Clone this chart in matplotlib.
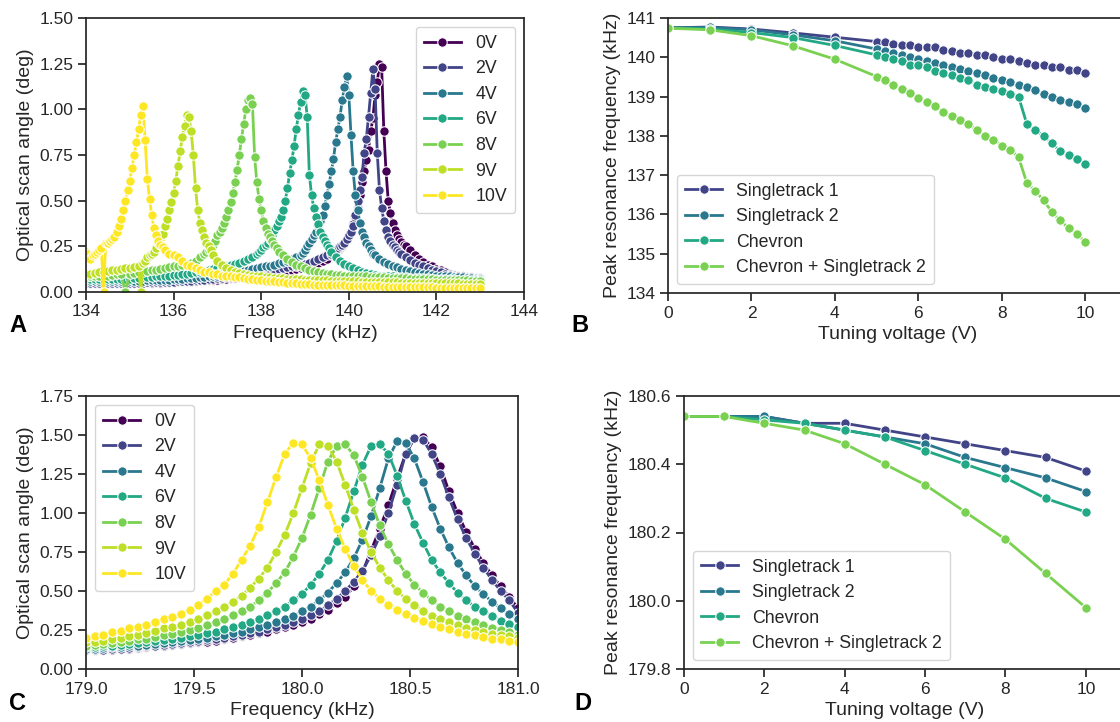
import matplotlib
matplotlib.use("Agg")
import matplotlib.pyplot as plt
from matplotlib import cm
from matplotlib.colors import Normalize
import matplotlib.ticker as mticker

plt.rcParams['font.family'] = ['Liberation Sans', 'DejaVu Sans']
TXT = '#262626'
plt.rcParams.update({
    'text.color': TXT, 'axes.labelcolor': TXT, 'xtick.color': TXT, 'ytick.color': TXT,
    'axes.edgecolor': TXT, 'axes.linewidth': 1.25,
    'xtick.major.width': 1.25, 'ytick.major.width': 1.25,
    'xtick.major.size': 5.5, 'ytick.major.size': 5.5,
    'xtick.labelsize': 12.5, 'ytick.labelsize': 12.5, 'axes.labelsize': 14,
})

# ---------------- data ----------------
VOLTS = [0, 2, 4, 6, 8, 9, 10]
VOLT_LABELS = ['0V', '2V', '4V', '6V', '8V', '9V', '10V']

# Panel A: (frequency kHz, optical scan angle deg)
A_0V = [(134.0,.05),(134.1,.05),(134.2,.055),(134.3,.05),(134.4,.05),(134.5,.055),(134.6,.05),(134.7,.05),
        (134.8,.055),(134.9,.05),(135.0,.05),(135.1,.055),(135.2,.05),(135.3,.05),(135.4,.055),(135.5,.05),
        (135.6,.055),(135.7,.05),(135.8,.055),(135.9,.055),(136.0,.055),(136.1,.06),(136.2,.06),(136.3,.06),
        (136.4,.06),(136.5,.06),(136.6,.065),(136.7,.065),(136.8,.065),(136.9,.065),(137.0,.065),(137.1,.07),
        (137.2,.07),(137.3,.075),(137.4,.075),(137.5,.08),(137.6,.08),(137.7,.085),(137.8,.085),(137.9,.09),
        (138.0,.09),(138.1,.095),(138.2,.10),(138.3,.10),(138.4,.105),(138.5,.11),(138.6,.115),(138.7,.12),
        (138.8,.125),(138.9,.13),(139.0,.14),(139.1,.145),(139.2,.15),(139.3,.16),(139.4,.17),(139.5,.18),
        (139.6,.20),(139.7,.22),(139.75,.23),(139.8,.24),(139.85,.25),(139.9,.27),(139.95,.29),(140.0,.31),
        (140.05,.33),(140.1,.37),(140.15,.41),(140.2,.46),(140.25,.53),(140.3,.60),(140.35,.66),(140.4,.72),
        (140.45,.78),(140.5,.88),(140.55,.95),(140.6,1.08),(140.65,1.15),(140.7,1.25),(140.75,1.23),(140.8,.88),
        (140.85,.66),(140.9,.50),(140.95,.43),(141.0,.38),(141.05,.34),(141.1,.31),(141.15,.29),(141.2,.275),
        (141.25,.26),(141.3,.25),(141.4,.23),(141.5,.20),(141.6,.18),(141.7,.165),(141.8,.15),(141.9,.14),
        (142.0,.125),(142.1,.12),(142.2,.11),(142.3,.10),(142.4,.095),(142.5,.09),(142.6,.085),(142.7,.08),
        (142.8,.075),(142.9,.07),(143.0,.065)]
A_2V = [(134.0,.05),(134.1,.048),(134.2,.05),(134.3,.05),(134.4,.048),(134.5,.05),(134.6,.05),(134.7,.052),
        (134.8,.05),(134.9,.05),(135.0,.052),(135.1,.05),(135.2,.052),(135.3,.052),(135.4,.053),(135.5,.053),
        (135.6,.054),(135.7,.055),(135.8,.055),(135.9,.056),(136.0,.057),(136.1,.058),(136.2,.06),(136.3,.06),
        (136.4,.062),(136.5,.064),(136.6,.066),(136.7,.068),(136.8,.07),(136.9,.072),(137.0,.075),(137.1,.078),
        (137.2,.08),(137.3,.083),(137.4,.086),(137.5,.09),(137.6,.093),(137.7,.096),(137.8,.10),(137.9,.104),
        (138.0,.108),(138.1,.112),(138.2,.116),(138.3,.12),(138.4,.125),(138.5,.13),(138.6,.135),(138.7,.14),
        (138.8,.145),(138.9,.15),(139.0,.155),(139.1,.16),(139.2,.17),(139.3,.18),(139.4,.19),(139.5,.20),
        (139.6,.21),(139.65,.22),(139.7,.23),(139.75,.24),(139.8,.25),(139.85,.26),(139.9,.27),(139.95,.29),
        (140.0,.31),(140.05,.33),(140.1,.36),(140.15,.42),(140.2,.50),(140.25,.56),(140.3,.63),(140.35,.76),
        (140.4,.84),(140.45,.96),(140.5,1.09),(140.55,1.22),(140.6,1.11),(140.65,.76),(140.7,.56),(140.75,.46),
        (140.8,.39),(140.85,.34),(140.9,.30),(140.95,.28),(141.0,.26),(141.05,.245),(141.1,.23),(141.15,.22),
        (141.2,.21),(141.3,.19),(141.4,.175),(141.5,.16),(141.6,.15),(141.7,.14),(141.8,.13),(141.9,.12),
        (142.0,.115),(142.1,.11),(142.2,.10),(142.3,.095),(142.4,.09),(142.5,.088),(142.6,.085),(142.7,.082),
        (142.8,.08),(142.9,.078),(143.0,.075)]
A_4V = [(134.0,.06),(134.1,.058),(134.2,.06),(134.3,.058),(134.4,.06),(134.5,.06),(134.6,.058),(134.7,.06),
        (134.8,.06),(134.9,.06),(135.0,.062),(135.1,.06),(135.2,.062),(135.3,.062),(135.4,.064),(135.5,.064),
        (135.6,.065),(135.7,.066),(135.8,.067),(135.9,.068),(136.0,.07),(136.1,.07),(136.2,.072),(136.3,.074),
        (136.4,.076),(136.5,.078),(136.6,.08),(136.7,.082),(136.8,.085),(136.9,.088),(137.0,.09),(137.1,.094),
        (137.2,.098),(137.3,.10),(137.4,.105),(137.5,.11),(137.6,.115),(137.7,.12),(137.8,.125),(137.9,.13),
        (138.0,.135),(138.1,.14),(138.2,.145),(138.3,.15),(138.4,.16),(138.5,.165),(138.6,.17),(138.7,.18),
        (138.8,.19),(138.9,.205),(138.95,.215),(139.0,.23),(139.05,.25),(139.1,.27),(139.15,.29),(139.2,.31),
        (139.25,.33),(139.3,.36),(139.35,.39),(139.4,.42),(139.45,.47),(139.5,.53),(139.55,.59),(139.6,.66),
        (139.65,.73),(139.7,.82),(139.75,.89),(139.8,.96),(139.85,1.05),(139.9,1.12),(139.95,1.18),(140.0,1.08),
        (140.05,.86),(140.1,.66),(140.15,.53),(140.2,.45),(140.25,.38),(140.3,.33),(140.35,.30),(140.4,.27),
        (140.45,.25),(140.5,.23),(140.55,.21),(140.6,.20),(140.7,.18),(140.8,.165),(140.9,.155),(141.0,.145),
        (141.1,.135),(141.2,.125),(141.3,.12),(141.4,.115),(141.5,.11),(141.6,.105),(141.7,.10),(141.8,.10),
        (141.9,.095),(142.0,.09),(142.1,.09),(142.2,.085),(142.3,.085),(142.4,.08),(142.5,.08),(142.6,.08),
        (142.7,.075),(142.8,.075),(142.9,.07),(143.0,.07)]
A_6V = [(134.0,.07),(134.1,.07),(134.2,.07),(134.3,.072),(134.4,.07),(134.5,.072),(134.6,.07),(134.7,.072),
        (134.8,.07),(134.9,.072),(135.0,.072),(135.1,.075),(135.2,.075),(135.3,.08),(135.4,.08),(135.5,.08),
        (135.6,.085),(135.7,.085),(135.8,.09),(135.9,.09),(136.0,.095),(136.1,.095),(136.2,.10),(136.3,.10),
        (136.4,.105),(136.5,.11),(136.6,.11),(136.7,.115),(136.8,.12),(136.9,.125),(137.0,.13),(137.1,.135),
        (137.2,.14),(137.3,.15),(137.4,.155),(137.5,.16),(137.6,.17),(137.7,.18),(137.8,.19),(137.9,.21),
        (137.95,.22),(138.0,.23),(138.05,.245),(138.1,.26),(138.15,.27),(138.2,.29),(138.25,.31),(138.3,.34),
        (138.35,.36),(138.4,.39),(138.45,.41),(138.5,.45),(138.55,.50),(138.6,.57),(138.65,.65),(138.7,.72),
        (138.75,.80),(138.8,.89),(138.85,.97),(138.9,1.04),(138.95,1.10),(139.0,1.08),(139.05,.96),(139.1,.64),
        (139.15,.53),(139.2,.46),(139.25,.41),(139.3,.37),(139.35,.33),(139.4,.30),(139.45,.28),(139.5,.26),
        (139.55,.24),(139.6,.22),(139.7,.19),(139.8,.17),(139.9,.155),(140.0,.145),(140.1,.13),(140.2,.12),
        (140.3,.11),(140.4,.105),(140.5,.10),(140.6,.095),(140.7,.09),(140.8,.09),(140.9,.085),(141.0,.085),
        (141.1,.08),(141.2,.08),(141.3,.08),(141.4,.078),(141.5,.077),(141.6,.076),(141.7,.075),(141.8,.074),
        (141.9,.073),(142.0,.072),(142.1,.071),(142.2,.07),(142.3,.07),(142.4,.069),(142.5,.068),(142.6,.068),
        (142.7,.067),(142.8,.066),(142.9,.066),(143.0,.065)]
A_8V = [(134.0,.08),(134.1,.085),(134.2,.09),(134.3,.09),(134.4,.095),(134.5,.09),(134.6,.095),(134.7,.10),
        (134.8,.10),(134.9,0.0),(135.0,.10),(135.1,.105),(135.2,.11),(135.3,.11),(135.4,.115),(135.5,.12),
        (135.6,.12),(135.7,.125),(135.8,.13),(135.9,.135),(136.0,.14),(136.1,.145),(136.2,.15),(136.3,.155),
        (136.4,.16),(136.5,.17),(136.6,.19),(136.7,.21),(136.75,.22),(136.8,.23),(136.85,.24),(136.9,.26),
        (136.95,.28),(137.0,.31),(137.05,.33),(137.1,.35),(137.15,.38),(137.2,.41),(137.25,.45),(137.3,.49),
        (137.35,.54),(137.4,.60),(137.45,.67),(137.5,.75),(137.55,.84),(137.6,.92),(137.65,1.0),(137.7,1.05),
        (137.75,1.06),(137.8,1.03),(137.85,.74),(137.9,.60),(137.95,.51),(138.0,.45),(138.05,.39),(138.1,.35),
        (138.15,.32),(138.2,.30),(138.25,.28),(138.3,.26),(138.35,.24),(138.4,.22),(138.5,.20),(138.6,.18),
        (138.7,.165),(138.8,.15),(138.9,.14),(139.0,.13),(139.1,.12),(139.2,.115),(139.3,.11),(139.4,.105),
        (139.5,.10),(139.6,.10),(139.7,.095),(139.8,.095),(139.9,.09),(140.0,.09),(140.1,.09),(140.2,.088),
        (140.3,.086),(140.4,.085),(140.5,.084),(140.6,.082),(140.7,.08),(140.8,.08),(140.9,.078),(141.0,.077),
        (141.1,.076),(141.2,.075),(141.3,.074),(141.4,.073),(141.5,.072),(141.6,.071),(141.7,.07),(141.8,.07),
        (141.9,.069),(142.0,.068),(142.1,.067),(142.2,.066),(142.3,.066),(142.4,.065),(142.5,.064),(142.6,.064),
        (142.7,.063),(142.8,.062),(142.9,.062),(143.0,.061)]
A_9V = [(134.0,.10),(134.1,.10),(134.2,.105),(134.3,.11),(134.4,.11),(134.5,.115),(134.6,.12),(134.7,.12),
        (134.8,.125),(134.9,.13),(135.0,.13),(135.1,.135),(135.2,.14),(135.25,0.0),(135.3,.16),(135.35,.17),
        (135.4,.19),(135.45,.20),(135.5,.21),(135.55,.22),(135.6,.24),(135.65,.27),(135.7,.29),(135.75,.32),
        (135.8,.36),(135.85,.40),(135.9,.45),(135.95,.49),(136.0,.54),(136.05,.61),(136.1,.69),(136.15,.77),
        (136.2,.85),(136.25,.91),(136.3,.97),(136.35,.96),(136.4,.88),(136.45,.75),(136.5,.57),(136.55,.45),
        (136.6,.38),(136.65,.34),(136.7,.30),(136.75,.27),(136.8,.25),(136.85,.23),(136.9,.20),(137.0,.17),
        (137.1,.15),(137.2,.13),(137.3,.12),(137.4,.11),(137.5,.105),(137.6,.10),(137.7,.095),(137.8,.09),
        (137.9,.085),(138.0,.085),(138.1,.08),(138.2,.08),(138.3,.078),(138.4,.076),(138.5,.075),(138.6,.073),
        (138.7,.072),(138.8,.07),(138.9,.07),(139.0,.068),(139.1,.067),(139.2,.066),(139.3,.065),(139.4,.064),
        (139.5,.063),(139.6,.062),(139.7,.061),(139.8,.06),(139.9,.06),(140.0,.059),(140.1,.058),(140.2,.058),
        (140.3,.057),(140.4,.056),(140.5,.056),(140.6,.055),(140.7,.055),(140.8,.054),(140.9,.054),(141.0,.053),
        (141.1,.053),(141.2,.052),(141.3,.052),(141.4,.051),(141.5,.051),(141.6,.05),(141.7,.05),(141.8,.05),
        (141.9,.049),(142.0,.049),(142.1,.048),(142.2,.048),(142.3,.048),(142.4,.047),(142.5,.047),(142.6,.046),
        (142.7,.046),(142.8,.046),(142.9,.045),(143.0,.045)]
A_10V = [(134.0,.22),(134.05,.21),(134.1,.18),(134.15,.20),(134.2,.21),(134.25,.22),(134.3,.23),(134.35,.24),
         (134.4,0.0),(134.45,.27),(134.5,.27),(134.55,.28),(134.6,.29),(134.65,.30),(134.7,.33),(134.75,.36),
         (134.8,.40),(134.85,.45),(134.9,.50),(134.95,.56),(135.0,.61),(135.05,.68),(135.1,.75),(135.15,.82),
         (135.2,.89),(135.25,.97),(135.3,1.02),(135.35,.83),(135.4,.62),(135.45,.51),(135.5,.42),(135.55,.35),
         (135.6,.31),(135.65,.28),(135.7,.26),(135.75,.245),(135.8,.23),(135.9,.21),(136.0,.20),(136.1,.19),
         (136.2,.17),(136.3,.15),(136.4,.14),(136.5,.13),(136.6,.12),(136.7,.11),(136.8,.11),(136.9,.10),
         (137.0,.10),(137.1,.09),(137.2,.09),(137.3,.085),(137.4,.08),(137.5,.08),(137.6,.075),(137.7,.07),
         (137.8,.07),(137.9,.065),(138.0,.065),(138.1,.06),(138.2,.06),(138.3,.06),(138.4,.055),(138.5,.055),
         (138.6,.05),(138.7,.05),(138.8,.05),(138.9,.045),(139.0,.045),(139.1,.045),(139.2,.04),(139.3,.04),
         (139.4,.04),(139.5,.04),(139.6,.038),(139.7,.038),(139.8,.036),(139.9,.036),(140.0,.035),(140.1,.035),
         (140.2,.034),(140.3,.034),(140.4,.033),(140.5,.032),(140.6,.032),(140.7,.031),(140.8,.03),(140.9,.03),
         (141.0,.03),(141.1,.029),(141.2,.028),(141.3,.028),(141.4,.027),(141.5,.027),(141.6,.026),(141.7,.026),
         (141.8,.025),(141.9,.025),(142.0,.024),(142.1,.024),(142.2,.023),(142.3,.023),(142.4,.022),(142.5,.022),
         (142.6,.022),(142.7,.021),(142.8,.021),(142.9,.02),(143.0,.02)]
A_SERIES = [A_0V, A_2V, A_4V, A_6V, A_8V, A_9V, A_10V]

# Panel B: peak resonance frequency vs tuning voltage
B_V = [0, 1, 2, 3, 4, 5, 5.2, 5.4, 5.6, 5.8, 6, 6.2, 6.4, 6.6, 6.8, 7, 7.2, 7.4, 7.6, 7.8,
       8, 8.2, 8.4, 8.6, 8.8, 9, 9.2, 9.4, 9.6, 9.8, 10]
B_ST1 = [140.75, 140.77, 140.72, 140.62, 140.51, 140.40, 140.40, 140.35, 140.31, 140.31, 140.25, 140.25,
         140.25, 140.19, 140.15, 140.11, 140.11, 140.05, 140.05, 140.00, 139.95, 139.95, 139.90, 139.85,
         139.81, 139.81, 139.76, 139.76, 139.68, 139.68, 139.59]
B_ST2 = [140.75, 140.76, 140.70, 140.57, 140.42, 140.21, 140.15, 140.11, 140.05, 140.00, 139.95, 139.90,
         139.85, 139.81, 139.76, 139.71, 139.65, 139.60, 139.55, 139.46, 139.41, 139.36, 139.30, 139.25,
         139.16, 139.06, 139.00, 138.90, 138.85, 138.80, 138.70]
B_CHEV = [140.75, 140.72, 140.63, 140.50, 140.30, 140.06, 140.00, 139.95, 139.90, 139.81, 139.81, 139.76,
          139.65, 139.60, 139.55, 139.46, 139.41, 139.30, 139.25, 139.20, 139.15, 139.06, 139.00, 138.30,
          138.15, 138.00, 137.81, 137.61, 137.51, 137.40, 137.29]
B_CHST2 = [140.74, 140.70, 140.55, 140.29, 139.95, 139.51, 139.41, 139.30, 139.20, 139.10, 138.96, 138.85,
           138.75, 138.60, 138.50, 138.40, 138.30, 138.15, 138.00, 137.90, 137.75, 137.65, 137.46, 136.80,
           136.60, 136.36, 136.06, 135.85, 135.65, 135.51, 135.29]
DEVICE_LABELS = ['Singletrack 1', 'Singletrack 2', 'Chevron', 'Chevron + Singletrack 2']
DEVICE_COLORS = ['#414487', '#2a788e', '#22a884', '#7ad151']

# Panel C: frequency sweep (kHz) and optical scan angle (deg)
C_FREQ = [179.00, 179.04, 179.08, 179.12, 179.16, 179.20, 179.24, 179.28, 179.32, 179.36,
          179.40, 179.44, 179.48, 179.52, 179.56, 179.60, 179.64, 179.68, 179.72, 179.76,
          179.80, 179.84, 179.88, 179.92, 179.96, 180.00, 180.04, 180.08, 180.12, 180.16,
          180.20, 180.24, 180.28, 180.32, 180.36, 180.40, 180.44, 180.48, 180.52, 180.56,
          180.60, 180.64, 180.68, 180.72, 180.76, 180.80, 180.84, 180.88, 180.92, 180.96, 181.00]
C_0V = [.12, .12, .12, .125, .13, .13, .135, .14, .145, .15,
        .155, .16, .165, .17, .175, .18, .19, .20, .21, .22,
        .23, .24, .255, .27, .285, .30, .32, .35, .38, .42,
        .46, .53, .62, .76, .90, 1.05, 1.22, 1.38, 1.48, 1.49,
        1.42, 1.30, 1.14, 1.00, .88, .77, .68, .60, .53, .46, .39]
C_2V = [.12, .12, .125, .13, .13, .135, .14, .145, .15, .155,
        .16, .165, .17, .18, .185, .19, .20, .21, .22, .23,
        .24, .255, .27, .285, .30, .32, .345, .37, .41, .45,
        .50, .56, .63, .73, .85, 1.00, 1.18, 1.38, 1.48, 1.47,
        1.38, 1.25, 1.10, .96, .84, .74, .65, .57, .50, .44, .36]
C_4V = [.13, .13, .135, .14, .14, .145, .15, .155, .16, .165,
        .17, .18, .185, .19, .20, .21, .22, .23, .24, .255,
        .27, .285, .30, .32, .34, .37, .40, .44, .49, .55,
        .62, .71, .83, .98, 1.16, 1.35, 1.46, 1.45, 1.35, 1.20,
        1.04, .90, .78, .68, .60, .53, .48, .43, .39, .35, .32]
C_6V = [.14, .14, .145, .15, .155, .16, .165, .17, .18, .185,
        .19, .20, .21, .22, .23, .24, .255, .27, .285, .30,
        .32, .345, .37, .40, .44, .48, .54, .61, .70, .82,
        .97, 1.14, 1.31, 1.43, 1.44, 1.38, 1.24, 1.08, .93, .81,
        .70, .62, .55, .49, .44, .40, .37, .34, .31, .29, .27]
C_8V = [.15, .155, .16, .165, .17, .18, .19, .195, .205, .215,
        .225, .24, .25, .265, .28, .30, .32, .345, .37, .40,
        .44, .49, .55, .62, .72, .84, .99, 1.16, 1.33, 1.43,
        1.44, 1.37, 1.23, 1.07, .92, .80, .70, .61, .54, .49,
        .44, .40, .37, .34, .32, .30, .28, .265, .25, .235, .22]
C_9V = [.17, .175, .18, .19, .20, .21, .22, .23, .245, .26,
        .27, .285, .30, .32, .345, .37, .40, .43, .47, .52,
        .58, .65, .75, .86, 1.00, 1.16, 1.32, 1.44, 1.43, 1.33,
        1.18, 1.02, .87, .75, .65, .57, .50, .45, .41, .37,
        .34, .32, .30, .28, .265, .25, .24, .225, .215, .21, .20]
C_10V = [.20, .21, .22, .235, .245, .26, .27, .285, .30, .32,
         .335, .355, .38, .41, .45, .50, .54, .61, .70, .79,
         .91, 1.07, 1.23, 1.38, 1.45, 1.44, 1.35, 1.21, 1.05, .90,
         .77, .66, .57, .50, .45, .41, .38, .35, .33, .31,
         .29, .27, .255, .24, .225, .215, .205, .195, .19, .18, .175]
C_SERIES = [C_0V, C_2V, C_4V, C_6V, C_8V, C_9V, C_10V]

# Panel D
D_V = [0, 1, 2, 3, 4, 5, 6, 7, 8, 9, 10]
D_ST1 = [180.54, 180.54, 180.54, 180.52, 180.52, 180.50, 180.48, 180.46, 180.44, 180.42, 180.38]
D_ST2 = [180.54, 180.54, 180.54, 180.52, 180.50, 180.48, 180.46, 180.42, 180.39, 180.36, 180.32]
D_CHEV = [180.54, 180.54, 180.53, 180.52, 180.50, 180.48, 180.44, 180.40, 180.36, 180.30, 180.26]
D_CHST2 = [180.54, 180.54, 180.52, 180.50, 180.46, 180.40, 180.34, 180.26, 180.18, 180.08, 179.98]

# ---------------- figure ----------------
W, H = 1120, 722
fig = plt.figure(figsize=(W / 100, H / 100), dpi=100)

def axes_px(left, top, right, bottom):
    return fig.add_axes([left / W, 1 - bottom / H, (right - left) / W, (bottom - top) / H])

axA = axes_px(86, 18, 524, 292)
axB = axes_px(668, 18, 1127, 293)
axC = axes_px(86, 396, 518, 669)
axD = axes_px(684, 396, 1126, 669)

norm = Normalize(0, 10)
STYLE = dict(lw=2.0, marker='o', ms=6.8, mec='white', mew=0.75)

def legend(ax, loc):
    lg = ax.legend(loc=loc, fontsize=12.8, frameon=True, fancybox=True, edgecolor='0.8',
                   framealpha=0.8, handlelength=2.1, labelspacing=0.48, borderpad=0.45,
                   handletextpad=0.8, numpoints=1)
    for t in lg.get_texts():
        t.set_color(TXT)

# A
for v, lab, ser in zip(VOLTS, VOLT_LABELS, A_SERIES):
    xs = [p[0] for p in ser]
    ys = [p[1] for p in ser]
    axA.plot(xs, ys, color=cm.viridis(norm(v)), label=lab, **STYLE)
axA.set_xlim(134, 144)
axA.set_ylim(0, 1.5)
axA.set_xticks([134, 136, 138, 140, 142, 144])
axA.set_yticks([0, 0.25, 0.5, 0.75, 1.0, 1.25, 1.5])
axA.yaxis.set_major_formatter(mticker.FormatStrFormatter('%.2f'))
axA.set_xlabel('Frequency (kHz)')
axA.set_ylabel('Optical scan angle (deg)')
legend(axA, 'upper right')

# B
for lab, col, ser in zip(DEVICE_LABELS, DEVICE_COLORS, [B_ST1, B_ST2, B_CHEV, B_CHST2]):
    axB.plot(B_V, ser, color=col, label=lab, **STYLE)
axB.set_xlim(0, 11)
axB.set_ylim(134, 141)
axB.set_xticks([0, 2, 4, 6, 8, 10])
axB.set_yticks([134, 135, 136, 137, 138, 139, 140, 141])
axB.set_xlabel('Tuning voltage (V)')
axB.set_ylabel('Peak resonance frequency (kHz)')
axB.spines['right'].set_visible(False)
legend(axB, 'lower left')

# C
for v, lab, ser in zip(VOLTS, VOLT_LABELS, C_SERIES):
    axC.plot(C_FREQ, ser, color=cm.viridis(norm(v)), label=lab, **STYLE)
axC.set_xlim(179, 181)
axC.set_ylim(0, 1.75)
axC.set_xticks([179.0, 179.5, 180.0, 180.5, 181.0])
axC.set_yticks([0, 0.25, 0.5, 0.75, 1.0, 1.25, 1.5, 1.75])
axC.xaxis.set_major_formatter(mticker.FormatStrFormatter('%.1f'))
axC.yaxis.set_major_formatter(mticker.FormatStrFormatter('%.2f'))
axC.set_xlabel('Frequency (kHz)')
axC.set_ylabel('Optical scan angle (deg)')
legend(axC, 'upper left')

# D
for lab, col, ser in zip(DEVICE_LABELS, DEVICE_COLORS, [D_ST1, D_ST2, D_CHEV, D_CHST2]):
    axD.plot(D_V, ser, color=col, label=lab, **STYLE)
axD.set_xlim(0, 11)
axD.set_ylim(179.8, 180.6)
axD.set_xticks([0, 2, 4, 6, 8, 10])
axD.set_yticks([179.8, 180.0, 180.2, 180.4, 180.6])
axD.yaxis.set_major_formatter(mticker.FormatStrFormatter('%.1f'))
axD.set_xlabel('Tuning voltage (V)')
axD.set_ylabel('Peak resonance frequency (kHz)')
axD.spines['right'].set_visible(False)
legend(axD, 'lower left')

for lab, x, y in [('A', 18, 326), ('B', 580, 326), ('C', 18, 704), ('D', 583, 704)]:
    fig.text(x / W, 1 - y / H, lab, fontsize=17, fontweight='bold', color='black',
             ha='center', va='center')

fig.savefig('out.png', dpi=100)
